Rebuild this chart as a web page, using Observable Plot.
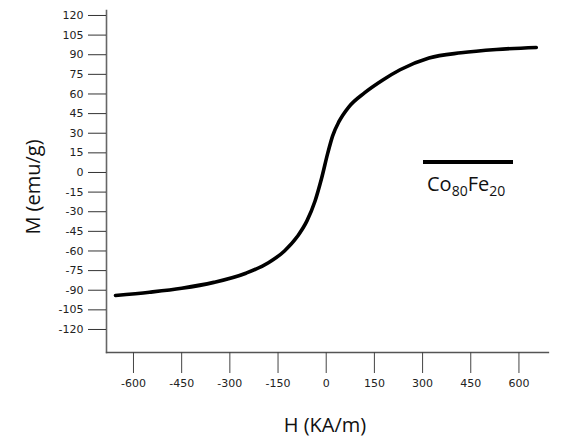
<!DOCTYPE html>
<html>
<head>
<meta charset="utf-8">
<script src="https://cdn.jsdelivr.net/npm/d3@7"></script>
<script src="https://cdn.jsdelivr.net/npm/@observablehq/plot@0.6"></script>
<style>
  html, body { margin: 0; padding: 0; background: #fff; }
  #wrap { position: relative; width: 576px; height: 443px; }
  #legend { position: absolute; left: 423px; top: 160px; width: 90px; font-family: "Open Sans", sans-serif; }
  #legend .ln { height: 4px; background: #000; }
  #legend .tx { margin-top: 10px; margin-left: 4px; font-size: 20px; color: #111; line-height: 1; }
  #legend sub { font-size: 14px; vertical-align: -5px; }
</style>
</head>
<body>
<div id="wrap">
  <div id="chart"></div>
  <div id="legend"><div class="ln"></div><div class="tx">Co<sub>80</sub>Fe<sub>20</sub></div></div>
</div>
<script>
const H = [-656, -550, -450, -350, -250, -180, -130, -90, -60, -35, -15, 5, 20, 40, 70, 120, 175, 230, 320, 420, 530, 654];
const M = [-94, -91.5, -88.5, -84, -77, -69, -60, -49, -37, -22, -5, 15, 28, 39, 50, 61, 70.5, 78.5, 87.5, 91.5, 94, 95.5];
const xTicks = [-600, -450, -300, -150, 0, 150, 300, 450, 600];
const yTicks = [120, 105, 90, 75, 60, 45, 30, 15, 0, -15, -30, -45, -60, -75, -90, -105, -120];
const series = "Co80Fe20";

const data = H.map((h, i) => ({H: h, M: M[i], s: series}));
const fmt = d => String(d);

const chart = Plot.plot({
  width: 576,
  height: 443,
  marginLeft: 106,
  marginRight: 28,
  marginTop: 10,
  marginBottom: 91,
  style: {fontFamily: "'DejaVu Sans', Verdana, sans-serif", fontSize: "11px", color: "#222", background: "#fff"},
  x: {domain: [-684, 692], ticks: xTicks},
  y: {domain: [-137.6, 123.8], ticks: yTicks},
  marks: [
    Plot.frame({anchor: "left", stroke: "#666", strokeWidth: 1.6}),
    Plot.frame({anchor: "bottom", stroke: "#555", strokeWidth: 1.3}),
    Plot.axisX({ticks: xTicks, tickFormat: fmt, tickSize: 21, tickPadding: 6, stroke: "#444", label: null}),
    Plot.axisY({ticks: yTicks, tickFormat: fmt, tickSize: 18, tickPadding: 5, stroke: "#333", label: null}),
    Plot.line(data, {x: "H", y: "M", curve: "monotone-x", stroke: "#000", strokeWidth: 3.6})
  ]
});
document.getElementById("chart").appendChild(chart);

const svg = d3.select(chart);
svg.append("text")
  .attr("transform", "translate(33,187) rotate(-90)")
  .attr("text-anchor", "middle").attr("dy", "0.35em")
  .style("font-family", "'Open Sans', sans-serif").style("font-size", "20px").attr("fill", "#111")
  .text("M (emu/g)");
svg.append("text")
  .attr("x", 325).attr("y", 425)
  .attr("text-anchor", "middle").attr("dy", "0.35em")
  .style("font-family", "'Open Sans', sans-serif").style("font-size", "20px").attr("fill", "#111")
  .text("H (KA/m)");
</script>
</body>
</html>
